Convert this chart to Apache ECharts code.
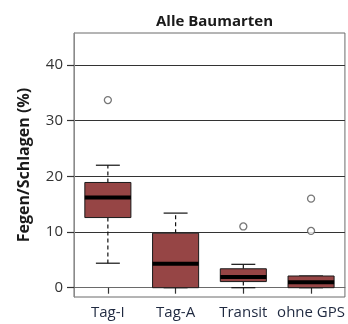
<!DOCTYPE html>
<html>
<head>
<meta charset="utf-8">
<script src="https://cdn.jsdelivr.net/npm/echarts@6/dist/echarts.min.js"></script>
<style>
  html, body { margin: 0; padding: 0; background: #fff; }
  #chart { width: 348px; height: 324px; }
</style>
</head>
<body>
<div id="chart"></div>
<script>
// Five-number summaries per tracking group
const categories = ['Tag-I', 'Tag-A', 'Transit', 'ohne GPS'];
const lowerWhisker = [4.4, 0, 0, 0];
const q1 = [12.6, 0, 1.1, 0];
const median = [16.2, 4.3, 1.9, 1.0];
const q3 = [18.9, 9.8, 3.4, 2.1];
const upperWhisker = [22.0, 13.4, 4.2, 2.1];

// Outliers: category index and value
const outlierCategory = [0, 2, 3, 3];
const outlierValue = [33.7, 11.0, 16.0, 10.2];

const yTicks = [0, 10, 20, 30, 40];

const boxData = categories.map((c, i) => [i, lowerWhisker[i], q1[i], median[i], q3[i], upperWhisker[i]]);
const outlierData = outlierCategory.map((c, i) => [c, outlierValue[i]]);

const chart = echarts.init(document.getElementById('chart'), null, { renderer: 'canvas' });

function renderBox(params, api) {
  const i = api.value(0);
  const band = api.size([1, 0])[0];
  const bw = band * 0.68;
  const cw = bw * 0.52;
  const pLo = api.coord([i, api.value(1)]);
  const pQ1 = api.coord([i, api.value(2)]);
  const pMed = api.coord([i, api.value(3)]);
  const pQ3 = api.coord([i, api.value(4)]);
  const pHi = api.coord([i, api.value(5)]);
  const x = pMed[0];
  const dash = { stroke: '#111', lineWidth: 1.2, lineDash: [4, 3] };
  const solid = { stroke: '#111', lineWidth: 1.2 };
  return {
    type: 'group',
    children: [
      { type: 'line', shape: { x1: x, y1: pQ3[1], x2: x, y2: pHi[1] }, style: dash },
      { type: 'line', shape: { x1: x, y1: pQ1[1], x2: x, y2: pLo[1] }, style: dash },
      { type: 'line', shape: { x1: x - cw / 2, y1: pHi[1], x2: x + cw / 2, y2: pHi[1] }, style: solid },
      { type: 'line', shape: { x1: x - cw / 2, y1: pLo[1], x2: x + cw / 2, y2: pLo[1] }, style: solid },
      { type: 'rect', shape: { x: x - bw / 2, y: pQ3[1], width: bw, height: pQ1[1] - pQ3[1] },
        style: { fill: '#964545', stroke: '#1a1a1a', lineWidth: 1 } },
      { type: 'line', shape: { x1: x - bw / 2, y1: pMed[1], x2: x + bw / 2, y2: pMed[1] },
        style: { stroke: '#000', lineWidth: 4 } }
    ]
  };
}

chart.setOption({
  animation: false,
  backgroundColor: '#fff',
  title: {
    text: 'Alle Baumarten',
    left: 209.5,
    textAlign: 'center',
    top: 9,
    textStyle: { fontFamily: 'Open Sans', fontSize: 15, fontWeight: 'bold', color: '#1a1a1a' }
  },
  grid: {
    left: 74, right: 3, top: 33, bottom: 27,
    show: true, borderColor: '#6a6a6a', borderWidth: 1, backgroundColor: 'transparent'
  },
  xAxis: {
    type: 'category',
    data: categories,
    axisLine: { show: true, lineStyle: { color: '#6a6a6a', width: 1 } },
    axisTick: { show: true, alignWithLabel: true, length: 6, lineStyle: { color: '#333', width: 1.2 } },
    axisLabel: { interval: 0, margin: 8, fontFamily: 'Open Sans', fontSize: 15, color: '#1f2940' },
    splitLine: { show: false }
  },
  yAxis: {
    type: 'value',
    min: -1.67,
    max: 45.75,
    name: 'Fegen/Schlagen (%)',
    nameLocation: 'middle',
    nameGap: 42,
    nameTextStyle: { fontFamily: 'Open Sans', fontSize: 16, fontWeight: 'bold', color: '#1a1a1a' },
    axisLine: { show: true, lineStyle: { color: '#8a8a8a', width: 1 } },
    axisTick: { show: true, length: 7, customValues: yTicks, lineStyle: { color: '#333', width: 1.2 } },
    axisLabel: { margin: 11, customValues: yTicks, fontFamily: 'Open Sans', fontSize: 15, color: '#333' },
    splitLine: { show: true, lineStyle: { color: '#333', width: 1 } }
  },
  series: [
    {
      type: 'custom',
      z: 3,
      renderItem: renderBox,
      encode: { x: 0, y: [1, 2, 3, 4, 5] },
      data: boxData
    },
    {
      type: 'scatter',
      z: 4,
      symbol: 'circle',
      symbolSize: 7,
      itemStyle: { color: '#fff', borderColor: '#555', borderWidth: 1.3 },
      data: outlierData
    }
  ]
});
</script>
</body>
</html>
